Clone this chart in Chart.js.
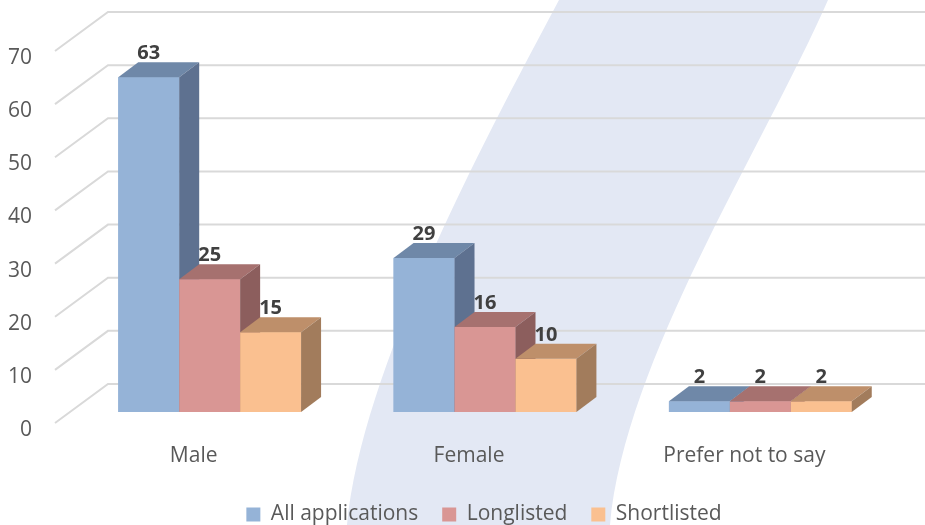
<!DOCTYPE html>
<html>
<head>
<meta charset="utf-8">
<script src="https://cdn.jsdelivr.net/npm/chart.js@4.4.0/dist/chart.umd.min.js"></script>
<style>
  html, body { margin: 0; padding: 0; background: #fff; }
  #wrap { width: 925px; height: 525px; position: relative; }
</style>
</head>
<body>
<div id="wrap"><canvas id="barChart"></canvas></div>
<script>
const categorias = ['Male', 'Female', 'Prefer not to say'];
const series = ['All applications', 'Longlisted', 'Shortlisted'];
const allApplications = [63, 29, 2];
const longlisted = [25, 16, 2];
const shortlisted = [15, 10, 2];
const yTicks = [0, 10, 20, 30, 40, 50, 60, 70];

const frontColors = ['#95B3D7', '#D99694', '#FAC090'];
const topColors = ['#6F88A8', '#A6716F', '#BE8F6A'];
const sideColors = ['#5E7190', '#8C5E5D', '#A27C5C'];

const PLOT_BOTTOM = 412;
const PAD_BOTTOM = -10;

// franja azul clara del fondo
const fondo = {
  id: 'fondo',
  beforeDraw(chart) {
    const ctx = chart.ctx;
    ctx.save();
    ctx.fillStyle = '#E3E8F4';
    ctx.beginPath();
    ctx.moveTo(559, 0);
    ctx.bezierCurveTo(479, 150, 362, 370, 347, 525);
    ctx.lineTo(610, 525);
    ctx.bezierCurveTo(625, 360, 762, 150, 828, 0);
    ctx.closePath();
    ctx.fill();
    ctx.restore();
  }
};

// rejilla en perspectiva
const rejilla = {
  id: 'rejilla',
  beforeDatasetsDraw(chart) {
    const {ctx, chartArea, scales: {y}} = chart;
    ctx.save();
    ctx.strokeStyle = '#D9D9D9';
    ctx.lineWidth = 2;
    yTicks.forEach(v => {
      const py = y.getPixelForValue(v);
      ctx.beginPath();
      ctx.moveTo(chartArea.left - 17, py + 11);
      ctx.lineTo(chartArea.left + 36, py - 28);
      ctx.lineTo(chart.width, py - 28);
      ctx.stroke();
    });
    ctx.restore();
  }
};

// caras superior y lateral de cada barra + etiquetas
const cubos = {
  id: 'cubos',
  afterDatasetsDraw(chart) {
    const ctx = chart.ctx;
    const dx = 20, dy = -15;
    const metas = chart.data.datasets.map((d, i) => chart.getDatasetMeta(i));
    ctx.save();
    for (let c = 0; c < categorias.length; c++) {
      metas.forEach((meta, i) => {
        const {x, y, base, width} = meta.data[c].getProps(['x', 'y', 'base', 'width'], true);
        const l = x - width / 2, r = x + width / 2;
        ctx.fillStyle = frontColors[i];
        ctx.fillRect(l, y, width, base - y);
        ctx.fillStyle = topColors[i];
        ctx.beginPath();
        ctx.moveTo(l, y);
        ctx.lineTo(r, y);
        ctx.lineTo(r + dx, y + dy);
        ctx.lineTo(l + dx, y + dy);
        ctx.closePath();
        ctx.fill();
        ctx.fillStyle = sideColors[i];
        ctx.beginPath();
        ctx.moveTo(r, y);
        ctx.lineTo(r + dx, y + dy);
        ctx.lineTo(r + dx, base + dy);
        ctx.lineTo(r, base);
        ctx.closePath();
        ctx.fill();
      });
    }
    ctx.font = "bold 20px 'Open Sans', sans-serif";
    ctx.fillStyle = '#404040';
    ctx.textAlign = 'center';
    ctx.textBaseline = 'middle';
    metas.forEach((meta, i) => {
      meta.data.forEach((bar, c) => {
        const {x, y} = bar.getProps(['x', 'y'], true);
        ctx.fillText(chart.data.datasets[i].data[c], x, y + dy - 9);
      });
    });
    ctx.restore();
  }
};

// la leyenda va un poco a la derecha del centro
const leyenda = {
  id: 'leyenda',
  afterLayout(chart) {
    chart.legend.left += 70;
  }
};

function sinPadding(s) {
  s.paddingTop = 0;
  s.paddingBottom = 0;
  s.paddingLeft = 0;
  s.paddingRight = 0;
}

function barChart() {
  Chart.defaults.font.family = "'Open Sans', sans-serif";
  Chart.defaults.color = '#595959';

  const datos = [allApplications, longlisted, shortlisted];
  const barChartData = {
    labels: categorias,
    datasets: series.map((nombre, i) => ({
      label: nombre,
      data: datos[i],
      backgroundColor: frontColors[i],
      borderWidth: 0,
      categoryPercentage: 0.664,
      barPercentage: 1
    }))
  };

  new Chart(document.getElementById('barChart').getContext('2d'), {
    type: 'bar',
    data: barChartData,
    options: {
      responsive: true,
      maintainAspectRatio: false,
      animation: false,
      layout: { padding: { top: 40, right: 27, left: 0, bottom: PAD_BOTTOM } },
      plugins: {
        tooltip: { enabled: false },
        legend: {
          position: 'bottom',
          labels: {
            boxWidth: 14,
            boxHeight: 14,
            padding: 24,
            color: '#595959',
            font: { size: 21 }
          }
        }
      },
      scales: {
        x: {
          grid: { display: false },
          border: { display: false },
          ticks: { labelOffset: -16, padding: 23, font: { size: 21 }, color: '#595959' },
          afterFit(s) {
            sinPadding(s);
            s.height = s.chart.height - PAD_BOTTOM - PLOT_BOTTOM - s.chart.legend.height;
          }
        },
        y: {
          min: 0,
          max: 70,
          grid: { display: false },
          border: { display: false },
          ticks: { stepSize: 10, padding: 32, labelOffset: 18, font: { size: 21 }, color: '#595959' },
          afterFit(s) {
            sinPadding(s);
            s.width = 72;
          }
        }
      }
    },
    plugins: [fondo, rejilla, cubos, leyenda]
  });
}

window.onload = barChart;
</script>
</body>
</html>
